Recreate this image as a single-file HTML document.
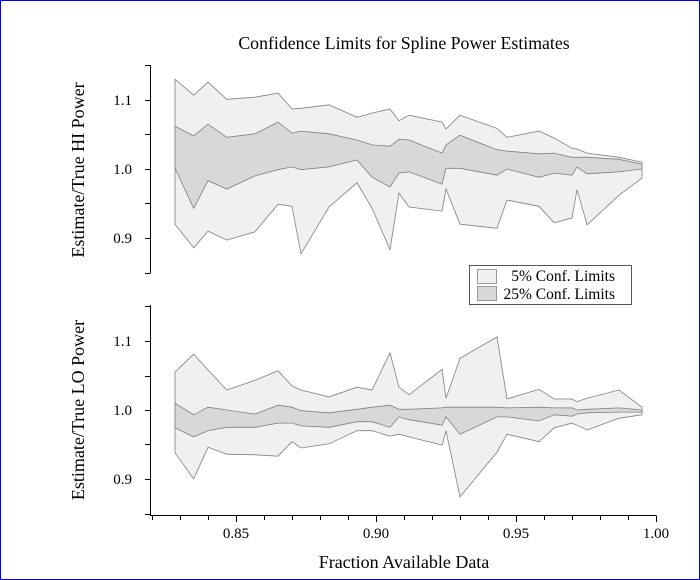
<!DOCTYPE html>
<html><head><meta charset="utf-8"><style>
html,body{margin:0;padding:0;background:#fff}
svg{display:block}
text{font-family:"Liberation Serif",serif;fill:#000}
</style></head><body>
<svg width="700" height="580" viewBox="0 0 700 580">
<rect x="0.5" y="0.5" width="699" height="579" fill="#fff" stroke="#0000ff"/>
<text x="404" y="49" text-anchor="middle" font-size="17.8">Confidence Limits for Spline Power Estimates</text>
<text transform="translate(84,170) rotate(-90)" text-anchor="middle" font-size="18">Estimate/True HI Power</text>
<text transform="translate(84,410) rotate(-90)" text-anchor="middle" font-size="18">Estimate/True LO Power</text>
<text x="404" y="568" text-anchor="middle" font-size="18">Fraction Available Data</text>
<g id="plot"></g>
<g>
<rect x="469.5" y="265.5" width="162" height="39" fill="#fff" stroke="#555"/>
<rect x="477.5" y="269.5" width="19" height="14" fill="#f0f0f0" stroke="#999"/>
<text x="615" y="281" text-anchor="end" font-size="15.5">5% Conf. Limits</text>
<rect x="477.5" y="286.5" width="19" height="14" fill="#d8d8d8" stroke="#999"/>
<text x="615" y="299" text-anchor="end" font-size="15.5">25% Conf. Limits</text>
</g>
</svg>
<script>
const xs=[0.8282,0.8349,0.84,0.8467,0.8568,0.865,0.87,0.8732,0.8832,0.8932,0.8986,0.905,0.9082,0.9118,0.9236,0.925,0.93,0.9432,0.9468,0.9582,0.9636,0.97,0.9718,0.9754,0.9868,0.995];
const hiOuterUp=[1.130,1.107,1.126,1.101,1.104,1.110,1.087,1.088,1.093,1.075,1.081,1.087,1.070,1.078,1.068,1.058,1.078,1.059,1.046,1.055,1.045,1.030,1.029,1.023,1.017,1.010];
const hiInnerUp=[1.062,1.048,1.065,1.046,1.051,1.068,1.052,1.055,1.051,1.042,1.035,1.033,1.043,1.042,1.023,1.035,1.049,1.028,1.026,1.022,1.023,1.017,1.017,1.017,1.014,1.007];
const hiInnerLo=[1.001,0.943,0.983,0.971,0.990,0.999,1.003,0.999,1.003,1.013,0.988,0.974,0.994,0.996,0.978,1.001,1.001,0.991,1.000,0.988,0.994,0.991,1.003,0.993,0.996,1.000];
const hiOuterLo=[0.920,0.886,0.910,0.897,0.909,0.949,0.946,0.877,0.945,0.980,0.943,0.883,0.965,0.945,0.939,0.971,0.920,0.914,0.955,0.946,0.922,0.929,0.970,0.919,0.962,0.987];
const loOuterUp=[1.055,1.081,1.058,1.029,1.043,1.057,1.035,1.029,1.019,1.033,1.029,1.083,1.033,1.022,1.059,1.017,1.075,1.106,1.016,1.030,1.016,1.016,1.012,1.017,1.029,1.004];
const loInnerUp=[1.010,0.993,1.004,1.000,0.994,1.007,1.004,0.999,0.996,1.001,1.004,1.007,1.001,1.001,1.003,1.004,1.004,1.004,1.003,1.004,1.003,1.003,1.000,1.001,1.003,1.000];
const loInnerLo=[0.974,0.961,0.970,0.975,0.975,0.981,0.981,0.977,0.975,0.983,0.983,0.975,0.990,0.986,0.978,0.990,0.965,0.990,0.990,0.984,0.993,0.991,0.994,0.996,0.997,0.997];
const loOuterLo=[0.938,0.900,0.946,0.936,0.935,0.933,0.954,0.945,0.951,0.970,0.970,0.962,0.965,0.961,0.949,0.970,0.874,0.939,0.965,0.954,0.974,0.981,0.978,0.971,0.988,0.993];
const xTicks=[0.85,0.90,0.95,1.00];
const xTickLabels=["0.85","0.90","0.95","1.00"];
const yTicks=[0.9,1.0,1.1];
const yTickLabels=["0.9","1.0","1.1"];

const NS="http://www.w3.org/2000/svg";
const g=document.getElementById('plot');
function X(v){return 236+(v-0.85)*2800;}
function mkY(c){return v=>c-(v-1)*690;}
const panels=[{name:'hi',Y:mkY(169),top:65,bot:273,d:[hiOuterUp,hiInnerUp,hiInnerLo,hiOuterLo]},
{name:'lo',Y:mkY(410),top:305,bot:515,d:[loOuterUp,loInnerUp,loInnerLo,loOuterLo]}];
function el(t,a){const e=document.createElementNS(NS,t);for(const k in a)e.setAttribute(k,a[k]);g.appendChild(e);return e;}
function band(up,lo,Y,fill){
  let p=xs.map((x,i)=>X(x).toFixed(1)+','+Y(up[i]).toFixed(1));
  let q=xs.map((x,i)=>X(x).toFixed(1)+','+Y(lo[i]).toFixed(1)).reverse();
  return el('polygon',{points:p.concat(q).join(' '),fill:fill,stroke:'#808080','stroke-width':'0.8'});
}
panels.forEach(P=>{
  const b1=band(P.d[0],P.d[3],P.Y,'#f0f0f0');
  
  
  const b2=band(P.d[1],P.d[2],P.Y,'#d8d8d8');
  
  
  const ax=el('line',{x1:150.5,x2:150.5,y1:P.top,y2:P.bot,stroke:'#000'});
  
  
  for(let v=0.85;v<=1.1501;v+=0.05){
    const y=Math.round(P.Y(v))+0.5;
    el('line',{x1:145,x2:150.5,y1:y,y2:y,stroke:'#000'});
  }
  yTicks.forEach((v,i)=>{
    const t=el('text',{x:132,y:P.Y(v)+5,'text-anchor':'end','font-size':'15'});
    t.textContent=yTickLabels[i];
    
    
  });
});
const xa=el('line',{x1:150,x2:656,y1:515.5,y2:515.5,stroke:'#000'});


for(let k=0;k<=18;k++){
  const v=0.82+k*0.01; const x=Math.round(X(v))+0.5;
  if(x<149)continue;
  const major=(k%5===3);
  el('line',{x1:x,x2:x,y1:515.5,y2:major?522:520,stroke:'#000'});
}
xTicks.forEach((v,i)=>{
  const t=el('text',{x:X(v),y:538,'text-anchor':'middle','font-size':'15'});
  t.textContent=xTickLabels[i];
  
  
});
</script>
</body></html>
